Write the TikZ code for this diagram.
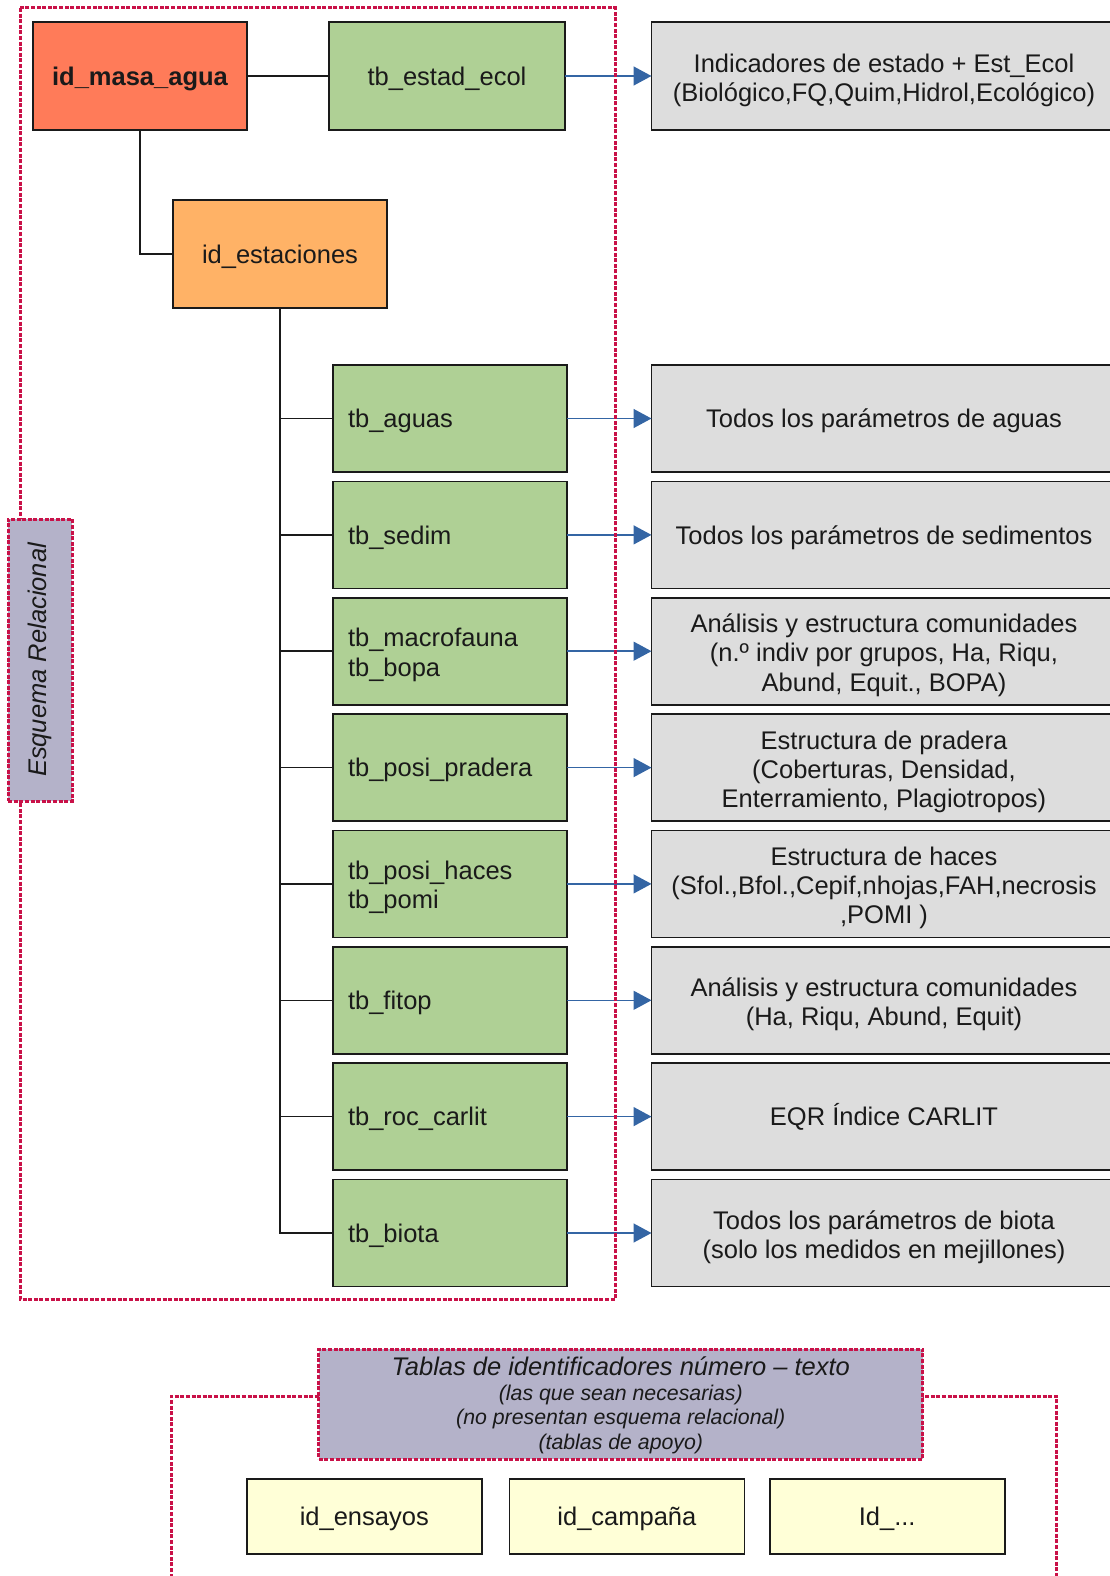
\documentclass[tikz,border=0pt]{standalone}
\usepackage{fontspec}
\setmainfont{Liberation Sans}
\usetikzlibrary{arrows.meta}
\definecolor{frame}{RGB}{201,17,72}
\definecolor{coral}{RGB}{255,123,89}
\definecolor{orng}{RGB}{255,178,102}
\definecolor{grn}{RGB}{175,208,149}
\definecolor{gry}{RGB}{221,221,221}
\definecolor{yel}{RGB}{255,255,215}
\definecolor{purp}{RGB}{180,178,201}
\definecolor{arrblue}{RGB}{52,101,164}
\definecolor{ink}{RGB}{26,26,26}
\newcommand\topstrut{\rule{0pt}{26pt}}
\newcommand\topstrutg{\rule{0pt}{28pt}}
\newcommand\firstline{\rule{0pt}{29pt}}
\newcommand\botstrut{\rule[-7.5pt]{0pt}{7.5pt}}
\tikzset{
  base/.style={draw=ink, line width=1.6pt, inner sep=0pt, outer sep=0pt, text=ink,
    font=\fontsize{25.5}{29.3}\selectfont, minimum height=107pt,
    execute at begin node=\topstrut, execute at end node=\botstrut},
  multigr/.style={execute at begin node=\topstrutg},
  redbox/.style={base, fill=coral, minimum width=214pt, minimum height=108pt, font=\fontsize{25.5}{29.3}\selectfont\bfseries},
  orbox/.style={base, fill=orng, minimum width=214pt, minimum height=108pt},
  grbox/.style={base, fill=grn, inner xsep=15pt, text width=204pt, align=left},
  grtop/.style={base, fill=grn, minimum width=236pt, minimum height=108pt},
  gybox/.style={base, fill=gry, minimum width=465pt, align=center},
  ylbox/.style={base, fill=yel, minimum width=235pt, minimum height=75pt},
  frameline/.style={draw=frame, line width=3pt, dash pattern=on 4pt off 1.6pt},
  tree/.style={draw=ink, line width=1.6pt},
  arr/.style={draw=arrblue, line width=1.5pt, -{Triangle[length=18pt,width=19pt]}},
}
\begin{document}
\begin{tikzpicture}[x=1pt,y=-1pt]
\useasboundingbox (0,0) rectangle (1110,1576);
\clip (0,0) rectangle (1110,1576);
% top nodes
\node[redbox] (masa) at (140,76) {id\_masa\_agua};
\node[grtop] (ecol) at (447,76) {tb\_estad\_ecol};
\node[gybox, minimum height=108pt] (recol) at (884,76) {\firstline Indicadores de estado + Est\_Ecol\\(Biológico,FQ,Quim,Hidrol,Ecológico)};
\node[orbox] (est) at (280,254) {id\_estaciones};
% green table nodes
\node[grbox] (aguas) at (450,418.5) {tb\_aguas};
\node[grbox] (sedim) at (450,534.9) {tb\_sedim};
\node[grbox, multigr] (macro) at (450,651.2) {tb\_macrofauna\\tb\_bopa};
\node[grbox] (prad) at (450,767.6) {tb\_posi\_pradera};
\node[grbox, multigr] (haces) at (450,883.9) {tb\_posi\_haces\\tb\_pomi};
\node[grbox] (fitop) at (450,1000.3) {tb\_fitop};
\node[grbox] (carlit) at (450,1116.6) {tb\_roc\_carlit};
\node[grbox] (biota) at (450,1233) {tb\_biota};
% grey description nodes
\node[gybox] (raguas) at (884,418.5) {Todos los parámetros de aguas};
\node[gybox] (rsedim) at (884,534.9) {Todos los parámetros de sedimentos};
\node[gybox] (rmacro) at (884,651.2) {\firstline Análisis y estructura comunidades\\(n.º indiv por grupos, Ha, Riqu,\\Abund, Equit., BOPA)};
\node[gybox] (rprad) at (884,767.6) {\firstline Estructura de pradera\\(Coberturas, Densidad,\\Enterramiento, Plagiotropos)};
\node[gybox] (rhaces) at (884,883.9) {\firstline Estructura de haces\\(Sfol.,Bfol.,Cepif,nhojas,FAH,necrosis\\,POMI )};
\node[gybox] (rfitop) at (884,1000.3) {\firstline Análisis y estructura comunidades\\(Ha, Riqu, Abund, Equit)};
\node[gybox] (rcarlit) at (884,1116.6) {EQR Índice CARLIT};
\node[gybox] (rbiota) at (884,1233) {\firstline Todos los parámetros de biota\\(solo los medidos en mejillones)};
% tree connectors
\draw[tree] (masa.east) -- (ecol.west);
\draw[tree] (masa.south) |- (est.west);
\foreach \n in {aguas,sedim,macro,prad,haces,fitop,carlit,biota}{
  \draw[tree] (est.south) |- (\n.west);
}
% arrows
\draw[arr] (ecol.east) -- (recol.west);
\foreach \n in {aguas,sedim,macro,prad,haces,fitop,carlit,biota}{
  \draw[arr] (\n.east) -- (r\n.west);
}
% frames
\draw[frameline] (20,8) rectangle (615.3,1299);
\draw[frameline] (171,1600) -- (171,1396.5) -- (1056.7,1396.5) -- (1056.7,1600);
\node[frameline, fill=purp, minimum width=64pt, minimum height=282pt, inner sep=0pt, text=ink] (esq) at (40.2,660)
  {\rotatebox{90}{\fontsize{25.5}{29.3}\selectfont\itshape Esquema Relacional}};
\node[frameline, fill=purp, minimum width=604pt, minimum height=110pt, inner sep=0pt, text=ink, align=center,
  font=\fontsize{21.3}{24.6}\selectfont\itshape] (tablas) at (620.8,1404)
  {{\fontsize{25.5}{24.6}\selectfont\rule{0pt}{21.5pt}Tablas de identificadores número – texto}\\
   (las que sean necesarias)\\
   (no presentan esquema relacional)\\
   (tablas de apoyo)\rule[-4pt]{0pt}{4pt}};
% yellow id nodes
\node[ylbox] (ensayos) at (364.3,1516.5) {id\_ensayos};
\node[ylbox] (campana) at (626.9,1516.5) {id\_campaña};
\node[ylbox] (idotros) at (887.2,1516.5) {Id\_...};
\end{tikzpicture}
\end{document}
